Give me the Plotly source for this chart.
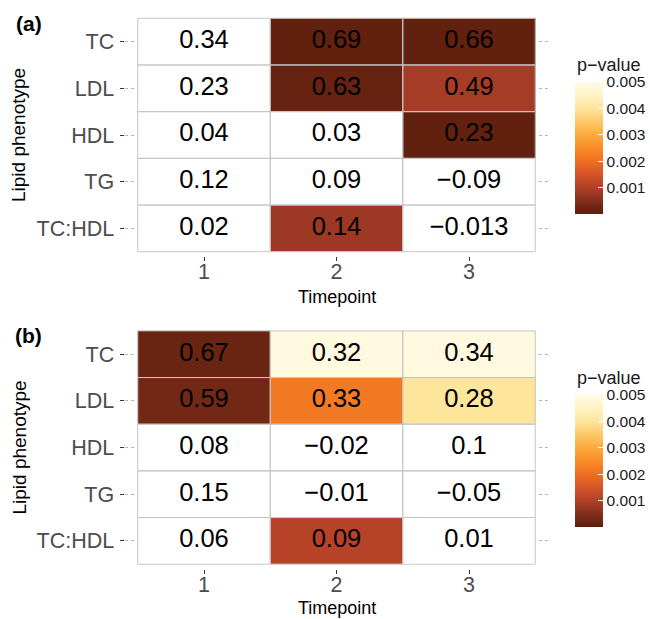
import numpy as np
import plotly.graph_objects as go

phenotypes = ["TC", "LDL", "HDL", "TG", "TC:HDL"]
timepoints = [1, 2, 3]

corr_a = [[0.34, 0.69, 0.66],
          [0.23, 0.63, 0.49],
          [0.04, 0.03, 0.23],
          [0.12, 0.09, -0.09],
          [0.02, 0.14, -0.013]]
pval_a = [[None, 0.0001, 0.0001],
          [None, 0.00015, 0.0009],
          [None, None, 0.0001],
          [None, None, None],
          [None, 0.00078, None]]

corr_b = [[0.67, 0.32, 0.34],
          [0.59, 0.33, 0.28],
          [0.08, -0.02, 0.1],
          [0.15, -0.01, -0.05],
          [0.06, 0.09, 0.01]]
pval_b = [[0.0002, 0.0049, 0.0049],
          [0.0003, 0.0022, 0.0040],
          [None, None, None],
          [None, None, None],
          [None, 0.00108, None]]

legend_ticks = [0.001, 0.002, 0.003, 0.004, 0.005]

FONT = "Liberation Sans, Arial, Helvetica, sans-serif"
colorscale = [[0.0, "#5a1d0c"], [0.1, "#83301c"], [0.2, "#b03f28"], [0.3, "#d65428"],
              [0.4, "#ee6e22"], [0.5, "#f98d28"], [0.6, "#fbaa3e"], [0.7, "#fdc86a"],
              [0.8, "#fee59c"], [0.9, "#fff3c4"], [1.0, "#fffbe6"]]


def fmt(v):
    s = f"{v:g}"
    return s.replace("-", "\u2212")


fig = go.Figure()
panels = [(corr_a, pval_a, "x", "y", 1 - 214 / 619, 1 - 64.5 / 619),
          (corr_b, pval_b, "x2", "y2", 1 - 527 / 619, 1 - 377.5 / 619)]
for corr, pval, xa, ya, cby, ty in panels:
    zwhite = [[0 for _ in timepoints] for _ in phenotypes]
    fig.add_trace(go.Heatmap(x=timepoints, y=phenotypes, z=zwhite, xaxis=xa, yaxis=ya,
                             colorscale=[[0, "white"], [1, "white"]], showscale=False,
                             hoverinfo="skip"))
    zp = [[np.nan if v is None else v for v in row] for row in pval]
    fig.add_trace(go.Heatmap(
        x=timepoints, y=phenotypes, z=zp, xaxis=xa, yaxis=ya,
        colorscale=colorscale, zmin=0, zmax=0.005, hoverinfo="skip",
        colorbar=dict(
            x=575 / 650, xanchor="left", xpad=0, y=cby, yanchor="bottom", ypad=0,
            len=132, lenmode="pixels", thickness=28, outlinewidth=0,
            tickvals=legend_ticks, ticktext=[f"{t:.3f}" for t in legend_ticks],
            ticks="inside", ticklen=5, tickcolor="white", tickwidth=1,
            tickfont=dict(family=FONT, size=15.5, color="#1a1a1a"),
        )))
    fig.add_annotation(text="p\u2212value", x=575 / 650, y=ty, xref="paper", yref="paper",
                       showarrow=False, xanchor="left", yanchor="middle",
                       font=dict(family=FONT, size=18, color="#1a1a1a"))
    xs, ys, txt = [], [], []
    for i, ph in enumerate(phenotypes):
        for j, t in enumerate(timepoints):
            xs.append(t)
            ys.append(ph)
            txt.append(fmt(corr[i][j]))
            fig.add_shape(type="rect", xref=xa, yref=ya,
                          x0=t - 0.5, x1=t + 0.5,
                          y0=len(phenotypes) - 1 - i - 0.5, y1=len(phenotypes) - 1 - i + 0.5,
                          line=dict(color="#c6c6c6", width=1), fillcolor="rgba(0,0,0,0)",
                          layer="above")
    fig.add_trace(go.Scatter(x=xs, y=ys, mode="text", text=txt, xaxis=xa, yaxis=ya,
                             textfont=dict(family=FONT, size=25.5, color="black"),
                             hoverinfo="skip", showlegend=False))

xdom = [124.5 / 650, 548.5 / 650]
ydom_a = [1 - 256.4 / 619, 1 - 13.6 / 619]
ydom_b = [1 - 568.9 / 619, 1 - 326.2 / 619]

axis_common = dict(showline=False, zeroline=False, showgrid=True, gridcolor="#b5b5b5",
                   griddash="dot", gridwidth=1, ticks="outside", ticklen=4,
                   tickcolor="#333333", tickwidth=1, automargin=False,
                   tickfont=dict(family=FONT, size=21.5, color="#4d4d4d"))
xcommon = dict(axis_common, range=[0.4, 3.6], tickvals=timepoints, showgrid=False,
               ticktext=[str(t) for t in timepoints], domain=xdom, ticklabelstandoff=-8)
ycommon = dict(axis_common, categoryorder="array", categoryarray=phenotypes[::-1],
               range=[-0.6, len(phenotypes) - 0.4], ticklabelstandoff=1)

fig.update_layout(
    width=650, height=619, margin=dict(l=0, r=0, t=0, b=0, autoexpand=False),
    paper_bgcolor="white", plot_bgcolor="white", showlegend=False,
    xaxis=dict(xcommon, anchor="y"),
    yaxis=dict(ycommon, domain=ydom_a, anchor="x"),
    xaxis2=dict(xcommon, anchor="y2"),
    yaxis2=dict(ycommon, domain=ydom_b, anchor="x2"),
    font=dict(family=FONT),
)

annots = [
    dict(text="<b>(a)</b>", x=29 / 650, y=1 - 23 / 619, size=21),
    dict(text="<b>(b)</b>", x=29 / 650, y=1 - 335 / 619, size=21),
    dict(text="Timepoint", x=336.5 / 650, y=1 - 297 / 619, size=18),
    dict(text="Timepoint", x=336.5 / 650, y=1 - 608 / 619, size=18),
]
for a in annots:
    fig.add_annotation(text=a["text"], x=a["x"], y=a["y"], xref="paper", yref="paper",
                       showarrow=False, xanchor="center", yanchor="middle",
                       font=dict(family=FONT, size=a["size"], color="black"))
for yc in [1 - 135 / 619, 1 - 447.5 / 619]:
    fig.add_annotation(text="Lipid phenotype", x=19 / 650, y=yc, xref="paper", yref="paper",
                       showarrow=False, textangle=-90, xanchor="center", yanchor="middle",
                       font=dict(family=FONT, size=19, color="black"))

fig.write_html("out.html", config={"displayModeBar": False},
               post_script="document.body.style.margin='0px';document.body.style.overflow='hidden';")
